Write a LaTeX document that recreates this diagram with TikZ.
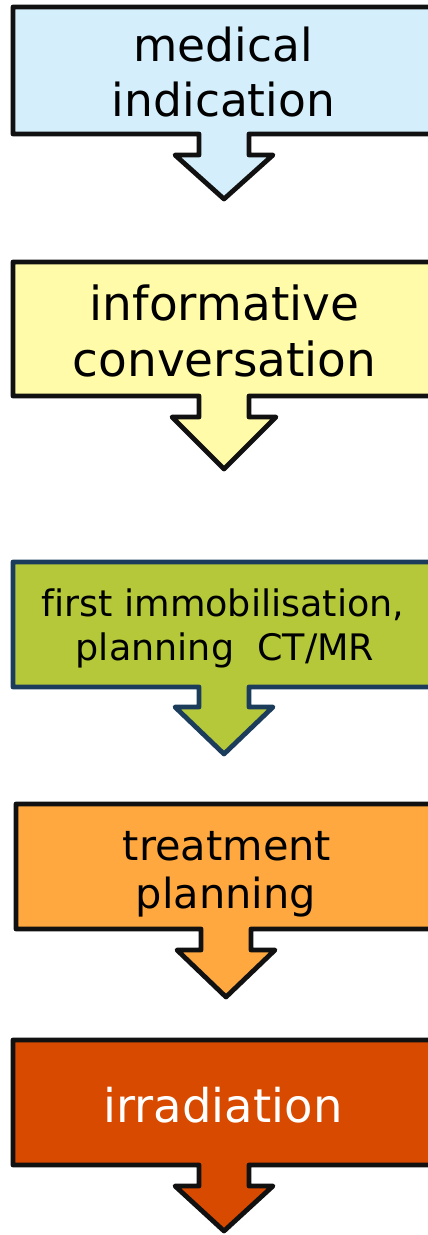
\documentclass[tikz,border=0pt]{standalone}
\usepackage{fontspec}
\setmainfont[Ligatures={NoCommon}]{DejaVu Sans}
\definecolor{cblue}{HTML}{D4EEFC}
\definecolor{cyellow}{HTML}{FFFBA8}
\definecolor{cgreen}{HTML}{B5C83A}
\definecolor{cnavy}{HTML}{1C3C5C}
\definecolor{corange}{HTML}{FFA83F}
\definecolor{cred}{HTML}{D84A00}
\definecolor{cline}{HTML}{111111}
\tikzset{
  shp/.style={draw=cline, line width=4.8pt, line join=round},
  lbl/.style={anchor=base, inner sep=0pt, text=black},
}
% #1 left, #2 top, #3 rect bottom, #4 stem bottom, #5 tip, #6 centre x, #7 wing half width, #8 style
\newcommand\flowshape[8]{%
  \draw[shp,#8] (#1,#2) -- (440,#2) -- (440,#3) -- ({#6+25},#3) -- ({#6+25},#4)
    -- ({#6+#7},#4) -- (#6,#5) -- ({#6-#7},#4) -- ({#6-25},#4) -- ({#6-25},#3)
    -- (#1,#3) -- cycle;}
\begin{document}
\begin{tikzpicture}[x=1pt,y=-1pt]
\useasboundingbox (0,0) rectangle (428,1235);
\fill[white] (0,0) rectangle (428,1235);
\clip (0,0) rectangle (428,1235);
% 1
\flowshape{13}{7}{134}{155}{199}{224}{49}{fill=cblue}
\node[lbl,font=\fontsize{45.5}{50}\selectfont] (t1a) at (223,61.7) {medical};
\node[lbl,font=\fontsize{45.5}{50}\selectfont] (t1b) at (223.5,116.7) {indication};
% 2
\flowshape{13}{262}{396}{417}{469}{224}{52}{fill=cyellow}
\node[lbl,font=\fontsize{47}{50}\selectfont] (t2a) at (224.5,320) {informative};
\node[lbl,font=\fontsize{47}{50}\selectfont] (t2b) at (224.5,376.7) {conversation};
% 3
\flowshape{13}{562}{687}{707}{754}{224}{49}{fill=cgreen,draw=cnavy}
\node[lbl,font=\fontsize{36.5}{40}\selectfont] (t3a) at (223,616.7) {first immobilisation,};
\node[lbl,font=\fontsize{36.5}{40}\selectfont] (t3b) at (225,660) {planning\ \ CT/MR};
% 4
\flowshape{16}{804}{929}{950}{997}{226}{49}{fill=corange}
\node[lbl,font=\fontsize{41.5}{45}\selectfont] (t4a) at (227,860) {treatment};
\node[lbl,font=\fontsize{41.5}{45}\selectfont] (t4b) at (226,908) {planning};
% 5
\flowshape{13}{1040}{1165}{1186}{1231}{224}{49}{fill=cred}
\node[lbl,font=\fontsize{46.5}{50}\selectfont,text=white] (t5a) at (223,1122.7) {irradiation};
\end{tikzpicture}
\end{document}
